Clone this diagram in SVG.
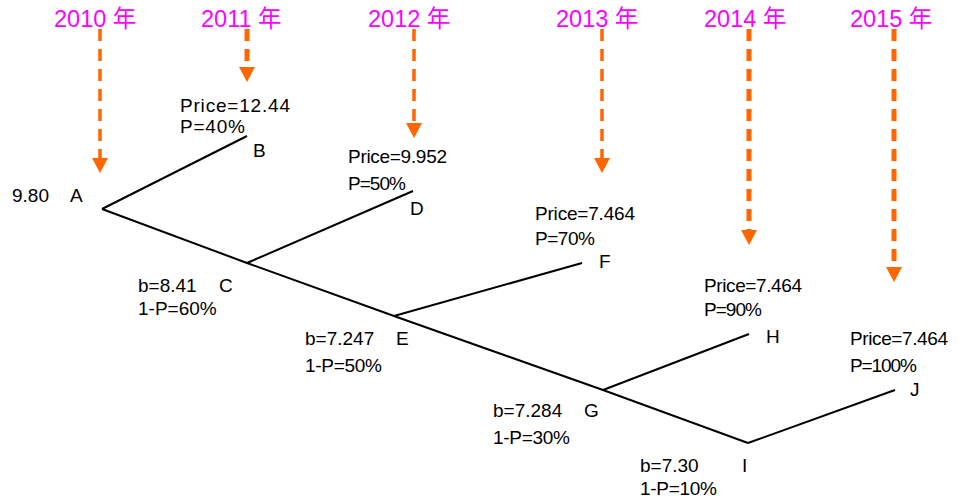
<svg xmlns="http://www.w3.org/2000/svg" width="966" height="502" viewBox="0 0 966 502">
<style>
text{font-family:"Liberation Sans","Noto Sans CJK SC",Arial,sans-serif;font-size:19px;fill:#000}
.yr{font-size:23.5px;fill:#FF00FF}
.br{stroke:#000;stroke-width:2;fill:none}
.ar{stroke:#FF6600;stroke-width:3.5;stroke-dasharray:12 8;fill:none}
.arw{stroke-width:5}
</style>
<defs>
<marker id="head" markerUnits="userSpaceOnUse" viewBox="0 0 15 16" markerWidth="15" markerHeight="16" refX="0" refY="8" orient="auto">
<path d="M0,0 L15,8 L0,16 Z" fill="#FF6600"/>
</marker>
</defs>
<rect width="966" height="502" fill="#fff"/>
<g id="timeline">
<text class="yr" x="54" y="27">2010 年</text>
<text class="yr" x="201" y="27">2011 年</text>
<text class="yr" x="368" y="27">2012 年</text>
<text class="yr" x="556" y="27">2013 年</text>
<text class="yr" x="704" y="27">2014 年</text>
<text class="yr" x="850" y="27">2015 年</text>
</g>
<g id="connectors">
<line class="ar" x1="100" y1="29" x2="100" y2="158" marker-end="url(#head)"/>
<line class="ar arw" x1="247" y1="29" x2="247" y2="67" marker-end="url(#head)"/>
<line class="ar" x1="414" y1="29" x2="414" y2="123" marker-end="url(#head)"/>
<line class="ar" x1="602" y1="29" x2="602" y2="158" marker-end="url(#head)"/>
<line class="ar arw" x1="749" y1="29" x2="749" y2="230" marker-end="url(#head)"/>
<line class="ar arw" x1="894" y1="29" x2="894" y2="267" marker-end="url(#head)"/>
<polyline class="br" points="102,209 247,263 394,316 603,390 748,443"/>
<line class="br" x1="102" y1="209" x2="247" y2="136"/>
<line class="br" x1="247" y1="263" x2="413" y2="191"/>
<line class="br" x1="394" y1="316" x2="582" y2="263"/>
<line class="br" x1="603" y1="390" x2="749" y2="334"/>
<line class="br" x1="748" y1="443" x2="895" y2="390"/>
</g>
<g id="node-A">
<text x="12" y="202">9.80</text>
<text x="70" y="202">A</text>
</g>
<g id="node-B">
<text x="180" y="112" textLength="110">Price=12.44</text>
<text x="180" y="133" textLength="65">P=40%</text>
<text x="253" y="157">B</text>
</g>
<g id="node-C">
<text x="138" y="292">b=8.41</text>
<text x="219" y="292">C</text>
<text x="138" y="315">1-P=60%</text>
</g>
<g id="node-D">
<text x="348" y="163" textLength="99">Price=9.952</text>
<text x="348" y="190" textLength="58">P=50%</text>
<text x="410" y="215">D</text>
</g>
<g id="node-E">
<text x="305" y="345">b=7.247</text>
<text x="396" y="345">E</text>
<text x="305" y="372" textLength="77">1-P=50%</text>
</g>
<g id="node-F">
<text x="535" y="220" textLength="100">Price=7.464</text>
<text x="535" y="245" textLength="60">P=70%</text>
<text x="599" y="268">F</text>
</g>
<g id="node-G">
<text x="493" y="417">b=7.284</text>
<text x="584" y="417">G</text>
<text x="493" y="444" textLength="77">1-P=30%</text>
</g>
<g id="node-H">
<text x="704" y="292" textLength="98">Price=7.464</text>
<text x="704" y="316" textLength="58">P=90%</text>
<text x="766" y="343">H</text>
</g>
<g id="node-I">
<text x="640" y="472">b=7.30</text>
<text x="742" y="472">I</text>
<text x="640" y="495" textLength="77">1-P=10%</text>
</g>
<g id="node-J">
<text x="850" y="345" textLength="98">Price=7.464</text>
<text x="850" y="372" textLength="67">P=100%</text>
<text x="910" y="396">J</text>
</g>
</svg>
